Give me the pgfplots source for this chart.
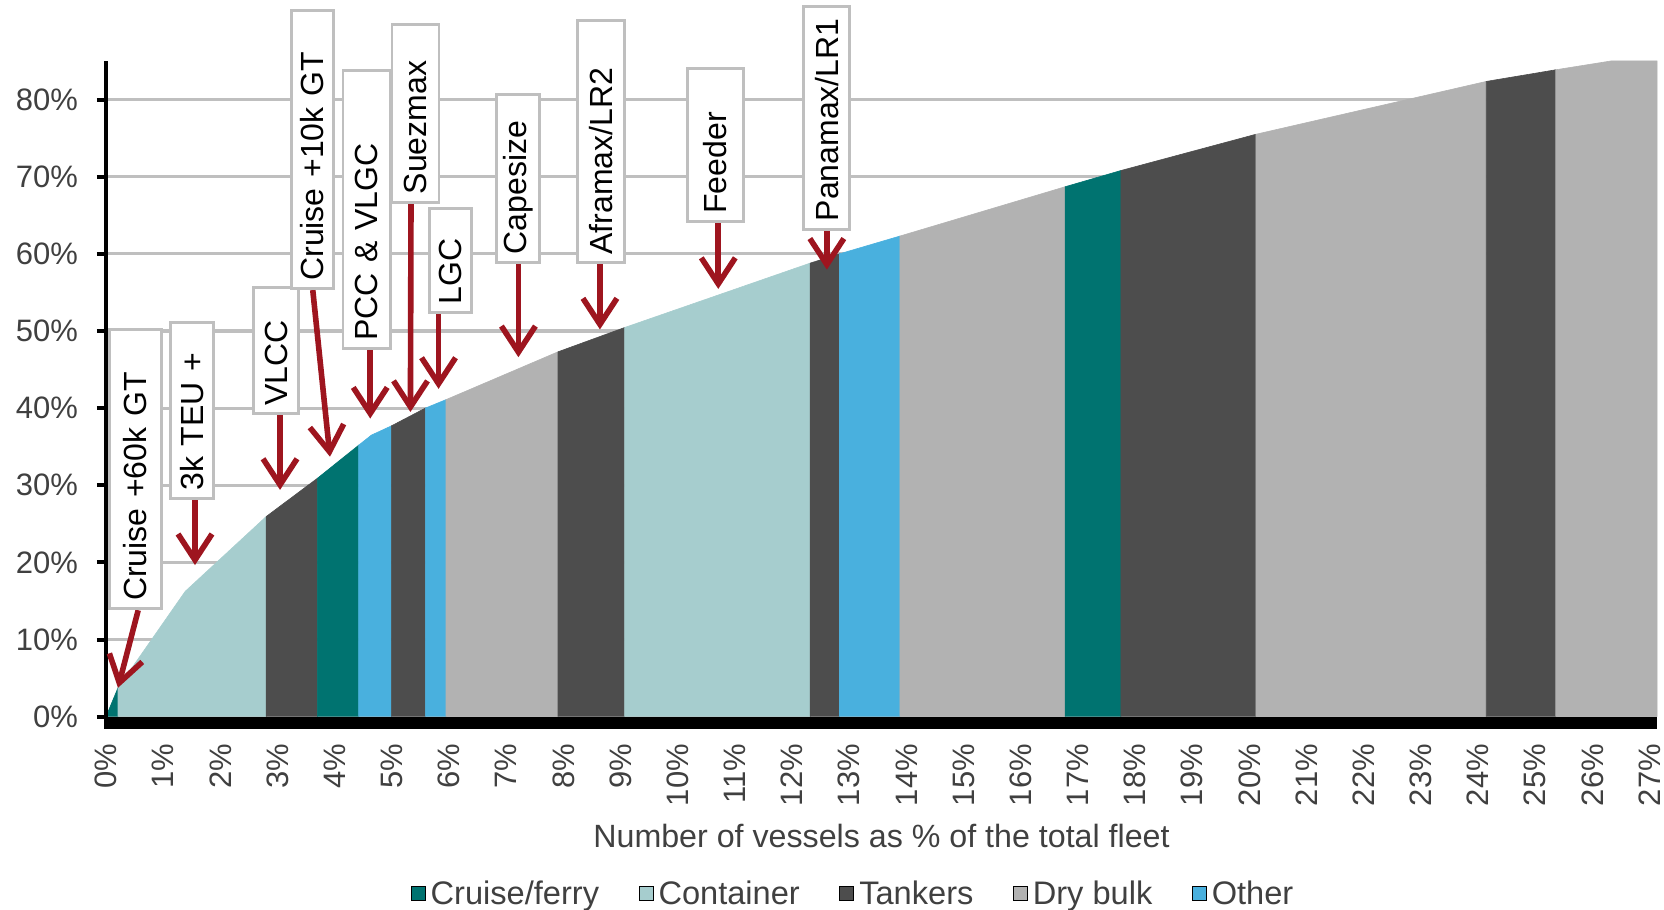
\documentclass[border=0pt]{standalone}
\usepackage{pgfplots}
\pgfplotsset{compat=1.18}
\usepackage{fontspec}
\setmainfont{Liberation Sans}
\usetikzlibrary{arrows.meta}
\definecolor{cteal}{HTML}{007370}
\definecolor{ccont}{HTML}{A6CDCE}
\definecolor{ctank}{HTML}{4D4D4D}
\definecolor{cdry}{HTML}{B2B2B2}
\definecolor{cother}{HTML}{49B0DE}
\definecolor{cred}{HTML}{9E151F}
\definecolor{cgrid}{HTML}{BFBFBF}
\definecolor{ctext}{HTML}{404040}
\tikzset{
  box/.style={draw=cgrid, line width=1.4pt, fill=white, rotate=90, anchor=west,
    font=\fontsize{16}{19}\selectfont, text=black, inner xsep=4pt, inner ysep=0pt, align=left},
  arr/.style={draw=cred, line width=2.8pt, -{Straight Barb[length=13pt, width=17pt]}}
}
\begin{document}
\begin{tikzpicture}
\begin{axis}[
  scale only axis, width=775.5pt, height=327.85pt,
  xmin=0, xmax=27.13, ymin=0, ymax=85,
  clip=false,
  axis lines=left,
  axis line style={-},
  x axis line style={draw=none},
  y axis line style={line width=2pt, black},
  tick align=outside,
  major tick length=4.5pt,
  ytick={0,10,...,80},
  yticklabels={0\%,10\%,20\%,30\%,40\%,50\%,60\%,70\%,80\%},
  xtick={0,1,...,27},
  xticklabels={0\%,1\%,2\%,3\%,4\%,5\%,6\%,7\%,8\%,9\%,10\%,11\%,12\%,13\%,14\%,15\%,16\%,17\%,18\%,19\%,20\%,21\%,22\%,23\%,24\%,25\%,26\%,27\%},
  xtick style={draw=none},
  ytick style={line width=2pt, black},
  ymajorgrids, grid style={cgrid, line width=1.6pt},
  tick label style={font=\fontsize{15.5}{18}\selectfont, text=ctext},
  xticklabel shift=8pt,
  yticklabel shift=6pt,
  xticklabel style={rotate=90, anchor=east, inner sep=1pt},
  yticklabel style={anchor=east},
  xlabel={Number of vessels as \% of the total fleet},
  xlabel style={at={(axis description cs:0.5,-0.182)}, anchor=center, font=\fontsize{16.1}{19}\selectfont, text=ctext},
  legend columns=5,
  legend style={draw=none, fill=none, at={(0.482,-0.270)}, anchor=center,
    font=\fontsize{16.3}{19}\selectfont, text=ctext, nodes={inner sep=1.5pt},
    /tikz/every odd column/.append style={column sep=1pt},
    /tikz/every even column/.append style={column sep=18.3pt}},
  legend image code/.code={\fill[#1] (0pt,-3.5pt) rectangle (7pt,3.5pt);},
]
\addplot[fill=cteal, draw=cteal, line width=0.3pt, forget plot] coordinates {(0,0) (0.21,3.75) (0.21,0)};
\addplot[fill=ccont, draw=ccont, line width=0.3pt, forget plot] coordinates {(0.21,0) (0.21,3.75) (1.386,16.25) (2.803,25.95) (2.803,0)};
\addplot[fill=ctank, draw=ctank, line width=0.3pt, forget plot] coordinates {(2.803,0) (2.803,25.95) (3.697,30.9) (3.697,0)};
\addplot[fill=cteal, draw=cteal, line width=0.3pt, forget plot] coordinates {(3.697,0) (3.697,30.9) (4.421,35.2) (4.421,0)};
\addplot[fill=cother, draw=cother, line width=0.3pt, forget plot] coordinates {(4.421,0) (4.421,35.2) (4.642,36.5) (4.993,37.7) (4.993,0)};
\addplot[fill=ctank, draw=ctank, line width=0.3pt, forget plot] coordinates {(4.993,0) (4.993,37.7) (5.586,40.0) (5.586,0)};
\addplot[fill=cother, draw=cother, line width=0.3pt, forget plot] coordinates {(5.586,0) (5.586,40.0) (5.948,41.1) (5.948,0)};
\addplot[fill=cdry, draw=cdry, line width=0.3pt, forget plot] coordinates {(5.948,0) (5.948,41.1) (7.907,47.3) (7.907,0)};
\addplot[fill=ctank, draw=ctank, line width=0.3pt, forget plot] coordinates {(7.907,0) (7.907,47.3) (9.072,50.45) (9.072,0)};
\addplot[fill=ccont, draw=ccont, line width=0.3pt, forget plot] coordinates {(9.072,0) (9.072,50.45) (12.318,58.8) (12.318,0)};
\addplot[fill=ctank, draw=ctank, line width=0.3pt, forget plot] coordinates {(12.318,0) (12.318,58.8) (12.830,60.0) (12.830,0)};
\addplot[fill=cother, draw=cother, line width=0.3pt, forget plot] coordinates {(12.830,0) (12.830,60.0) (13.885,62.3) (13.885,0)};
\addplot[fill=cdry, draw=cdry, line width=0.3pt, forget plot] coordinates {(13.885,0) (13.885,62.3) (16.778,68.7) (16.778,0)};
\addplot[fill=cteal, draw=cteal, line width=0.3pt, forget plot] coordinates {(16.778,0) (16.778,68.7) (17.753,70.8) (17.753,0)};
\addplot[fill=ctank, draw=ctank, line width=0.3pt, forget plot] coordinates {(17.753,0) (17.753,70.8) (20.114,75.5) (20.114,0)};
\addplot[fill=cdry, draw=cdry, line width=0.3pt, forget plot] coordinates {(20.114,0) (20.114,75.5) (24.143,82.35) (24.143,0)};
\addplot[fill=ctank, draw=ctank, line width=0.3pt, forget plot] coordinates {(24.143,0) (24.143,82.35) (25.359,83.86) (25.359,0)};
\addplot[fill=cdry, draw=cdry, line width=0.3pt, forget plot] coordinates {(25.359,0) (25.359,83.86) (26.323,85) (27.13,85) (27.13,0)};

\addlegendimage{fill=cteal}\addlegendentry{Cruise/ferry}
\addlegendimage{fill=ccont}\addlegendentry{Container}
\addlegendimage{fill=ctank}\addlegendentry{Tankers}
\addlegendimage{fill=cdry}\addlegendentry{Dry bulk}
\addlegendimage{fill=cother}\addlegendentry{Other}

\draw[black, line width=6pt] ([xshift=-1pt,yshift=-3pt]axis cs:0,0) -- ([yshift=-3pt]axis cs:27.13,0);
\draw[black, line width=2pt] ([yshift=-6pt]axis cs:0,0) -- (axis cs:0,85);

\draw[arr] (axis cs:0.563,13.8) -- (axis cs:0.21,3.75);
\draw[arr] (axis cs:1.557,28.1) -- (axis cs:1.557,19.65);
\draw[arr] (axis cs:3.044,39.1) -- (axis cs:3.044,29.4);
\draw[arr] (axis cs:3.617,55.3) -- (axis cs:3.918,33.7);
\draw[arr] (axis cs:4.622,47.5) -- (axis cs:4.622,38.65);
\draw[arr] (axis cs:5.335,66.5) -- (axis cs:5.325,39.5);
\draw[arr] (axis cs:5.817,52.25) -- (axis cs:5.817,42.5);
\draw[arr] (axis cs:7.214,58.7) -- (axis cs:7.214,46.6);
\draw[arr] (axis cs:8.640,58.7) -- (axis cs:8.640,50.2);
\draw[arr] (axis cs:10.710,64.0) -- (axis cs:10.710,55.45);
\draw[arr] (axis cs:12.609,63.0) -- (axis cs:12.609,57.95);

\node[box, text width=131.5pt, minimum height=26pt] at (axis cs:0.512,13.8) {Cruise +60k GT};
\node[box, text width=80pt, minimum height=21.7pt] at (axis cs:1.507,28.1) {3k TEU +};
\node[box, text width=55pt, minimum height=22.5pt] at (axis cs:2.974,39.1) {VLCC};
\node[box, text width=131pt, minimum height=21pt] at (axis cs:3.607,55.3) {Cruise +10k GT};
\node[box, text width=131pt, minimum height=23.8pt] at (axis cs:4.561,47.5) {PCC \& VLGC};
\node[box, text width=81pt, minimum height=23.5pt] at (axis cs:5.415,66.5) {Suezmax};
\node[box, text width=44pt, minimum height=21.2pt] at (axis cs:6.028,52.25) {LGC};
\node[box, text width=76pt, minimum height=21.5pt] at (axis cs:7.204,58.7) {Capesize};
\node[box, text width=113pt, minimum height=23.3pt] at (axis cs:8.661,58.7) {Aframax/LR2};
\node[box, text width=68.7pt, minimum height=28pt] at (axis cs:10.660,64.0) {Feeder};
\node[box, text width=103.4pt, minimum height=23pt] at (axis cs:12.609,63.0) {Panamax/LR1};

\coordinate (sw) at (rel axis cs:0,0);
\coordinate (ne) at (rel axis cs:1,1);
\end{axis}
\pgfresetboundingbox
\path[use as bounding box] ([shift={(-53pt,-96.65pt)}]sw) rectangle ([shift={(3.5pt,30.5pt)}]ne);
\end{tikzpicture}
\end{document}
